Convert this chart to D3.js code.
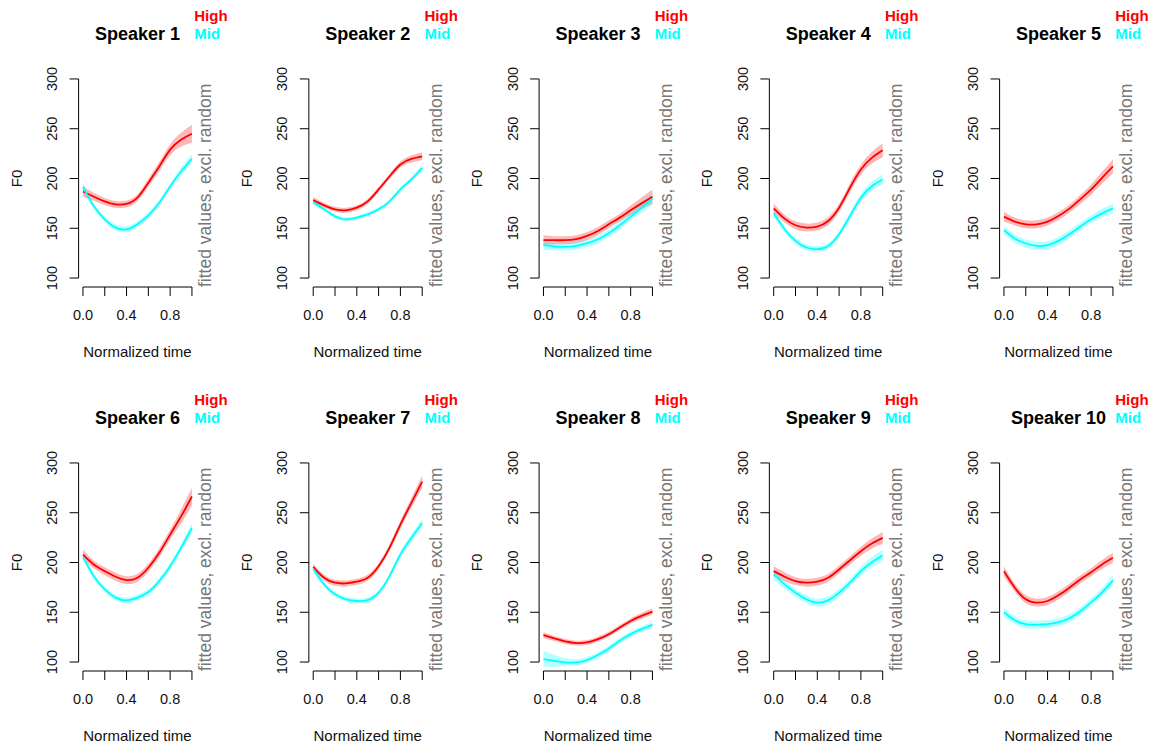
<!DOCTYPE html>
<html>
<head>
<meta charset="utf-8">
<script src="https://cdn.jsdelivr.net/npm/d3@7"></script>
<style>
  body { margin: 0; background: #fff; }
  svg { display: block; font-family: "Liberation Sans", Arial, sans-serif; }
</style>
</head>
<body>
<div id="plot"></div>
<script>
const times = [0, 0.1, 0.2, 0.3, 0.4, 0.5, 0.6, 0.7, 0.8, 0.9, 1.0];

const speakers = ["Speaker 1", "Speaker 2", "Speaker 3", "Speaker 4", "Speaker 5",
                  "Speaker 6", "Speaker 7", "Speaker 8", "Speaker 9", "Speaker 10"];

const highF0 = [
  [187, 181.7, 177, 174, 174.5, 180.7, 195.7, 212, 229, 239, 245],
  [178.3, 173, 169, 168, 170.7, 177, 189, 202, 214, 219.7, 222.3],
  [138, 138, 138, 139, 142.3, 147.3, 154, 160.7, 168, 175, 181.7],
  [170, 159.7, 153, 150.7, 151.7, 157.3, 170.7, 190.7, 209, 220.7, 228.3],
  [161.7, 156.7, 154, 154, 156.7, 162.3, 169.7, 179, 189, 200.7, 212.3],
  [208, 198, 191.3, 185.7, 182.3, 184.7, 194.7, 209.7, 228, 246.3, 266.3],
  [195.7, 184.7, 179.7, 179, 180.7, 184.7, 196.3, 214.7, 238, 259.7, 281.3],
  [127, 123.7, 120.7, 119, 119.7, 123, 128, 134.7, 141.3, 146.3, 150.7],
  [191.3, 185.7, 181.3, 179.7, 180.7, 184.7, 193, 202.3, 211.3, 219, 224.7],
  [191.3, 174.7, 163, 159.7, 161.3, 167, 174.7, 183, 190.3, 198, 204.7]
];

const midF0 = [
  [191.7, 172, 159, 150.7, 149, 154, 163, 175.7, 192, 207, 219.7],
  [176, 169, 162, 159, 160.7, 164, 169, 177, 189, 199, 210.7],
  [133, 131.7, 131.3, 132.3, 135, 139, 145, 153, 161.7, 170.7, 179.7],
  [165, 149, 137.3, 130.7, 129, 132.3, 144, 162.3, 180.7, 192.3, 199],
  [148.3, 139.7, 134.7, 132.3, 133, 137.3, 144, 151.7, 159, 165, 170],
  [205.7, 186.3, 173, 164.7, 162, 164.7, 170.3, 181.3, 196.3, 214.7, 234.7],
  [193.7, 178, 168, 163, 161.3, 162.3, 169.7, 186.3, 208, 224.7, 239.7],
  [103, 101.3, 99.7, 99.7, 102, 107, 113.7, 121.3, 128, 133, 137.3],
  [188, 178, 169.7, 163, 159.7, 162, 169.7, 179.7, 191.3, 200.3, 207],
  [150, 142, 138, 137.5, 138, 140, 144, 151, 160, 170, 182]
];

// half widths of the confidence bands
const highBand = [
  [5, 4, 3.5, 3.5, 3.5, 3.5, 4, 4.5, 5.5, 7, 9],
  [3, 2.5, 2.5, 2.5, 2.5, 2.5, 2.5, 2.5, 3, 3.5, 4],
  [5, 4, 4, 4, 4, 4, 4, 4, 5, 6, 7],
  [5, 4, 4, 4, 4, 4, 4, 4.5, 5, 6, 7],
  [5, 4, 4, 4, 4, 4, 4, 4.5, 5, 6, 7],
  [5, 4, 4, 4, 4, 4, 4, 4.5, 5, 7, 9],
  [3, 3, 3, 3, 3, 3, 3, 3.5, 4, 5, 6],
  [3, 2.5, 2.5, 2.5, 2.5, 2.5, 2.5, 2.5, 2.5, 3, 3],
  [5, 4.5, 4, 4, 4, 4, 4, 4, 4.5, 5, 6],
  [5, 4, 4, 4, 4, 4, 4, 4, 4, 4.5, 5]
];

const midBand = [
  [4, 3, 3, 3, 3, 3, 3, 3, 3, 4, 5],
  [2.5, 2, 2, 2, 2, 2, 2, 2, 2, 2.5, 3],
  [5, 4, 4, 4, 4, 4, 4, 4, 4, 5, 6],
  [4, 3, 3, 3, 3, 3, 3, 3.5, 4, 4.5, 5],
  [4, 4, 4, 4, 4, 4, 4, 4, 4, 4.5, 5],
  [3, 3, 3, 3, 3, 3, 3, 3, 3.5, 4, 5],
  [3, 2.5, 2.5, 2.5, 2.5, 2.5, 2.5, 2.5, 3, 3.5, 4],
  [8, 6, 4, 3, 3, 3, 3, 3, 3, 3, 3],
  [5, 4.5, 4, 4, 4, 4, 4, 4, 4.5, 5, 6],
  [5, 4, 4, 4, 4, 4, 4, 4, 4, 4.5, 5.5]
];

const yTicks = [100, 150, 200, 250, 300];
const xTicks = [0, 0.2, 0.4, 0.6, 0.8, 1.0];
const xTickLabels = ["0.0", "", "0.4", "", "0.8", ""];

const width = 1156;
const height = 746;
const colStep = 230.25;
const rowStep = 384;
const plotLeft = 78.6;
const plotTop = 71;
const plotW = 117.7;
const plotH = 215;

const svg = d3.select("#plot").append("svg")
  .attr("width", width)
  .attr("height", height);

svg.append("rect").attr("width", width).attr("height", height).attr("fill", "#fff");

// R extends each axis range by 4%
const xScale = d3.scaleLinear().domain([-0.04, 1.04]).range([0, plotW]);
const yScale = d3.scaleLinear().domain([92, 308]).range([plotH, 0]);

const curve = d3.curveNatural;

const line = d3.line()
  .x(d => xScale(d.t))
  .y(d => yScale(d.v))
  .curve(curve);

const area = d3.area()
  .x(d => xScale(d.t))
  .y0(d => yScale(d.v - d.b))
  .y1(d => yScale(d.v + d.b))
  .curve(curve);

const series = [
  { name: "High", values: highF0, band: highBand, color: "#ff0000", fill: "rgba(255,0,0,0.28)" },
  { name: "Mid", values: midF0, band: midBand, color: "#00ffff", fill: "rgba(0,255,255,0.28)" }
];

speakers.forEach((name, i) => {
  const col = i % 5;
  const row = Math.floor(i / 5);
  const ox = plotLeft + col * colStep;
  const oy = plotTop + row * rowStep;

  const g = svg.append("g").attr("transform", `translate(${ox},${oy})`);

  const clipId = "clip" + i;
  g.append("clipPath").attr("id", clipId)
    .append("rect").attr("width", plotW).attr("height", plotH);

  const marks = g.append("g").attr("clip-path", `url(#${clipId})`);

  // bands first, then lines on top
  series.forEach(s => {
    const pts = times.map((t, k) => ({ t: t, v: s.values[i][k], b: s.band[i][k] }));
    marks.append("path")
      .attr("d", area(pts))
      .attr("fill", s.fill)
      .attr("stroke", "none");
  });
  series.forEach(s => {
    const pts = times.map((t, k) => ({ t: t, v: s.values[i][k] }));
    marks.append("path")
      .attr("d", line(pts))
      .attr("fill", "none")
      .attr("stroke", s.color)
      .attr("stroke-width", 1.8);
  });

  // y axis
  const yAxis = g.append("g");
  yAxis.append("line")
    .attr("x1", 0).attr("x2", 0)
    .attr("y1", yScale(100)).attr("y2", yScale(300))
    .attr("stroke", "#000");
  yTicks.forEach(v => {
    yAxis.append("line")
      .attr("x1", 0).attr("x2", -9)
      .attr("y1", yScale(v)).attr("y2", yScale(v))
      .attr("stroke", "#000");
    yAxis.append("text")
      .attr("transform", `translate(-21.5,${yScale(v)}) rotate(-90)`)
      .attr("text-anchor", "middle")
      .attr("font-size", 14.5)
      .attr("fill", "#111")
      .text(v);
  });

  // x axis
  const xAxisY = plotH + 1;
  const xAxis = g.append("g");
  xAxis.append("line")
    .attr("x1", xScale(0)).attr("x2", xScale(1))
    .attr("y1", xAxisY).attr("y2", xAxisY)
    .attr("stroke", "#000");
  xTicks.forEach((t, k) => {
    xAxis.append("line")
      .attr("x1", xScale(t)).attr("x2", xScale(t))
      .attr("y1", xAxisY).attr("y2", xAxisY + 9)
      .attr("stroke", "#000");
    if (xTickLabels[k]) {
      xAxis.append("text")
        .attr("x", xScale(t)).attr("y", xAxisY + 33)
        .attr("text-anchor", "middle")
        .attr("font-size", 14.5)
        .attr("fill", "#111")
        .text(xTickLabels[k]);
    }
  });

  g.append("text")
    .attr("x", plotW / 2).attr("y", plotH + 71)
    .attr("text-anchor", "middle")
    .attr("font-size", 15)
    .attr("fill", "#111")
    .text("Normalized time");

  g.append("text")
    .attr("transform", `translate(-57,${plotH / 2}) rotate(-90)`)
    .attr("text-anchor", "middle")
    .attr("font-size", 15)
    .attr("fill", "#111")
    .text("F0");

  g.append("text")
    .attr("transform", `translate(${plotW + 15},${plotH + 1}) rotate(-90)`)
    .attr("text-anchor", "start")
    .attr("font-size", 17.5)
    .attr("fill", "#777")
    .text("fitted values, excl. random");

  // title and legend
  g.append("text")
    .attr("x", plotW / 2).attr("y", -31.5)
    .attr("text-anchor", "middle")
    .attr("font-size", 18)
    .attr("font-weight", "bold")
    .attr("fill", "#000")
    .text(name);

  series.forEach((s, k) => {
    g.append("text")
      .attr("x", plotW - 2).attr("y", -50.5 + k * 18)
      .attr("font-size", 15)
      .attr("font-weight", "bold")
      .attr("fill", s.color)
      .text(s.name);
  });
});
</script>
</body>
</html>
